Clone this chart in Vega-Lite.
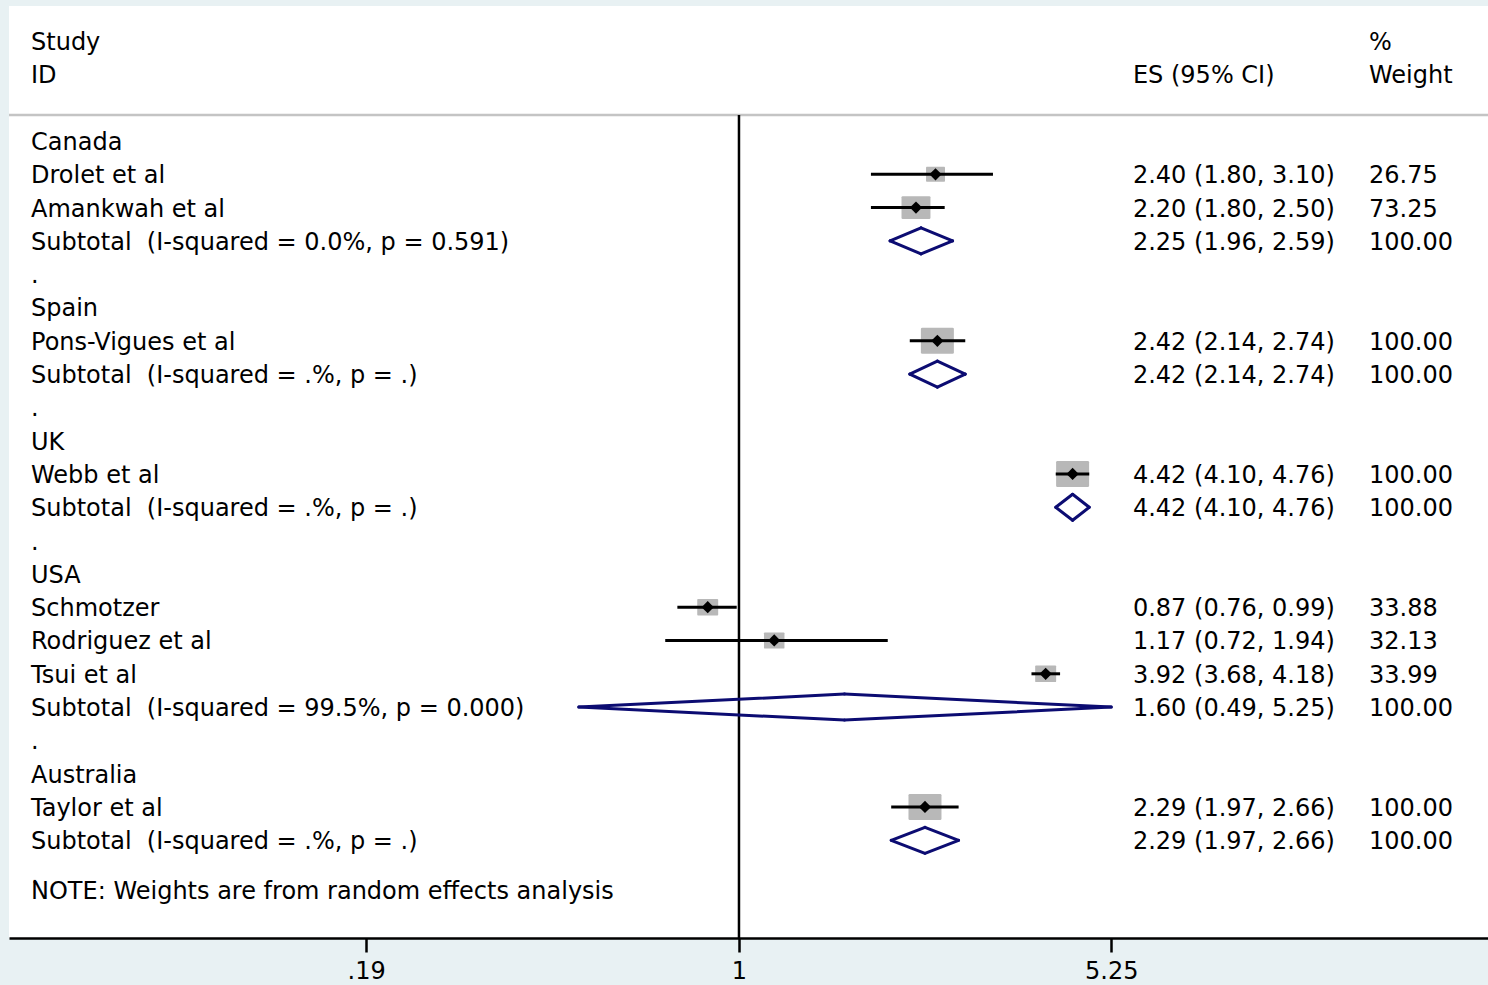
{
  "$schema": "https://vega.github.io/schema/vega-lite/v6.json",
  "width": 1479,
  "height": 932,
  "autosize": {"type": "none"},
  "padding": {"left": 9, "top": 6, "right": 0, "bottom": 47},
  "background": "#e8f1f3",
  "view": {"fill": "white", "stroke": null},
  "config": {
    "font": "DejaVu Sans",
    "text": {"font": "DejaVu Sans", "fontSize": 24, "color": "black", "baseline": "middle", "align": "left", "dy": 2}
  },
  "datasets": {
    "rows": [
      {"row": 1, "label": "Canada", "kind": "group"},
      {"row": 2, "label": "Drolet et al", "kind": "study", "es": 2.40, "lo": 1.80, "hi": 3.10, "ci": "2.40 (1.80, 3.10)", "w": 26.75, "wt": "26.75"},
      {"row": 3, "label": "Amankwah et al", "kind": "study", "es": 2.20, "lo": 1.80, "hi": 2.50, "ci": "2.20 (1.80, 2.50)", "w": 73.25, "wt": "73.25"},
      {"row": 4, "label": "Subtotal\u00a0 (I-squared = 0.0%, p = 0.591)", "kind": "pooled", "es": 2.25, "lo": 1.96, "hi": 2.59, "ci": "2.25 (1.96, 2.59)", "w": 100, "wt": "100.00"},
      {"row": 5, "label": ".", "kind": "dot"},
      {"row": 6, "label": "Spain", "kind": "group"},
      {"row": 7, "label": "Pons-Vigues et al", "kind": "study", "es": 2.42, "lo": 2.14, "hi": 2.74, "ci": "2.42 (2.14, 2.74)", "w": 100, "wt": "100.00"},
      {"row": 8, "label": "Subtotal\u00a0 (I-squared = .%, p = .)", "kind": "pooled", "es": 2.42, "lo": 2.14, "hi": 2.74, "ci": "2.42 (2.14, 2.74)", "w": 100, "wt": "100.00"},
      {"row": 9, "label": ".", "kind": "dot"},
      {"row": 10, "label": "UK", "kind": "group"},
      {"row": 11, "label": "Webb et al", "kind": "study", "es": 4.42, "lo": 4.10, "hi": 4.76, "ci": "4.42 (4.10, 4.76)", "w": 100, "wt": "100.00"},
      {"row": 12, "label": "Subtotal\u00a0 (I-squared = .%, p = .)", "kind": "pooled", "es": 4.42, "lo": 4.10, "hi": 4.76, "ci": "4.42 (4.10, 4.76)", "w": 100, "wt": "100.00"},
      {"row": 13, "label": ".", "kind": "dot"},
      {"row": 14, "label": "USA", "kind": "group"},
      {"row": 15, "label": "Schmotzer", "kind": "study", "es": 0.87, "lo": 0.76, "hi": 0.99, "ci": "0.87 (0.76, 0.99)", "w": 33.88, "wt": "33.88"},
      {"row": 16, "label": "Rodriguez et al", "kind": "study", "es": 1.17, "lo": 0.72, "hi": 1.94, "ci": "1.17 (0.72, 1.94)", "w": 32.13, "wt": "32.13"},
      {"row": 17, "label": "Tsui et al", "kind": "study", "es": 3.92, "lo": 3.68, "hi": 4.18, "ci": "3.92 (3.68, 4.18)", "w": 33.99, "wt": "33.99"},
      {"row": 18, "label": "Subtotal\u00a0 (I-squared = 99.5%, p = 0.000)", "kind": "pooled", "es": 1.60, "lo": 0.49, "hi": 5.25, "ci": "1.60 (0.49, 5.25)", "w": 100, "wt": "100.00"},
      {"row": 19, "label": ".", "kind": "dot"},
      {"row": 20, "label": "Australia", "kind": "group"},
      {"row": 21, "label": "Taylor et al", "kind": "study", "es": 2.29, "lo": 1.97, "hi": 2.66, "ci": "2.29 (1.97, 2.66)", "w": 100, "wt": "100.00"},
      {"row": 22, "label": "Subtotal\u00a0 (I-squared = .%, p = .)", "kind": "pooled", "es": 2.29, "lo": 1.97, "hi": 2.66, "ci": "2.29 (1.97, 2.66)", "w": 100, "wt": "100.00"},
      {"row": 23, "label": ".", "kind": "dot"},
      {"row": 23.5, "label": "NOTE: Weights are from random effects analysis", "kind": "note"}
    ],
    "headers": [
      {"row": -2, "left": "Study", "right": "%"},
      {"row": -1, "left": "ID", "mid": "ES (95% CI)", "right": "Weight"}
    ]
  },
  "encoding": {
    "y": {"field": "row", "type": "quantitative", "axis": null,
          "scale": {"domain": [-3.054, 24.934], "reverse": true, "nice": false, "zero": false}}
  },
  "layer": [
    {
      "data": {"values": [{"row": 0.22}]},
      "mark": {"type": "rule", "color": "#c4c4c4", "strokeWidth": 2.5},
      "encoding": {
        "x": {"datum": 0.03871, "type": "quantitative",
              "scale": {"type": "log", "domain": [0.03871, 28.12], "nice": false, "zero": false},
              "axis": {"values": [0.19, 1, 5.25], "title": null, "grid": false,
                       "labelExpr": "datum.value < 0.5 ? '.19' : (datum.value < 2 ? '1' : '5.25')",
                       "domainColor": "black", "domainWidth": 2.5, "tickColor": "black", "tickWidth": 2.5, "tickSize": 14,
                       "labelFont": "DejaVu Sans", "labelFontSize": 24, "labelColor": "black", "labelPadding": 7, "labelFlush": false}},
        "x2": {"datum": 28.12}
      }
    },
    {
      "data": {"values": [{"row": 0.22}]},
      "mark": {"type": "rule", "color": "black", "strokeWidth": 2.5},
      "encoding": {
        "x": {"datum": 1, "type": "quantitative"},
        "y2": {"datum": 24.934}
      }
    },
    {
      "data": {"name": "rows"},
      "transform": [{"filter": "datum.kind == 'study'"}],
      "mark": {"type": "point", "filled": true, "color": "#b8b8b8", "opacity": 1,
               "shape": "M-1.1,-0.95H1.1Q1.2,-0.95 1.2,-0.85V0.85Q1.2,0.95 1.1,0.95H-1.1Q-1.2,0.95 -1.2,0.85V-0.85Q-1.2,-0.95 -1.1,-0.95Z"},
      "encoding": {
        "x": {"field": "es", "type": "quantitative"},
        "size": {"field": "w", "type": "quantitative", "legend": null,
                 "scale": {"type": "pow", "exponent": 0.84, "domain": [0, 100], "range": [0, 756], "zero": true}}
      }
    },
    {
      "data": {"name": "rows"},
      "transform": [{"filter": "datum.kind == 'study'"}],
      "mark": {"type": "rule", "color": "black", "strokeWidth": 3},
      "encoding": {
        "x": {"field": "lo", "type": "quantitative"},
        "x2": {"field": "hi"}
      }
    },
    {
      "data": {"name": "rows"},
      "transform": [{"filter": "datum.kind == 'study'"}],
      "mark": {"type": "point", "filled": true, "color": "black", "opacity": 1, "shape": "diamond", "size": 150},
      "encoding": {
        "x": {"field": "es", "type": "quantitative"}
      }
    },
    {
      "data": {"name": "rows"},
      "transform": [{"filter": "datum.kind == 'pooled'"}],
      "mark": {"type": "rule", "color": "#0c0c72", "strokeWidth": 3, "strokeCap": "round", "y2Offset": -13},
      "encoding": {
        "x": {"field": "lo", "type": "quantitative"},
        "x2": {"field": "es"},
        "y2": {"field": "row"}
      }
    },
    {
      "data": {"name": "rows"},
      "transform": [{"filter": "datum.kind == 'pooled'"}],
      "mark": {"type": "rule", "color": "#0c0c72", "strokeWidth": 3, "strokeCap": "round", "y2Offset": 13},
      "encoding": {
        "x": {"field": "lo", "type": "quantitative"},
        "x2": {"field": "es"},
        "y2": {"field": "row"}
      }
    },
    {
      "data": {"name": "rows"},
      "transform": [{"filter": "datum.kind == 'pooled'"}],
      "mark": {"type": "rule", "color": "#0c0c72", "strokeWidth": 3, "strokeCap": "round", "yOffset": -13},
      "encoding": {
        "x": {"field": "es", "type": "quantitative"},
        "x2": {"field": "hi"},
        "y2": {"field": "row"}
      }
    },
    {
      "data": {"name": "rows"},
      "transform": [{"filter": "datum.kind == 'pooled'"}],
      "mark": {"type": "rule", "color": "#0c0c72", "strokeWidth": 3, "strokeCap": "round", "yOffset": 13},
      "encoding": {
        "x": {"field": "es", "type": "quantitative"},
        "x2": {"field": "hi"},
        "y2": {"field": "row"}
      }
    },
    {
      "data": {"name": "rows"},
      "mark": {"type": "text"},
      "encoding": {
        "x": {"datum": 0.0427, "type": "quantitative"},
        "text": {"field": "label"}
      }
    },
    {
      "data": {"name": "rows"},
      "transform": [{"filter": "isValid(datum.ci)"}],
      "mark": {"type": "text"},
      "encoding": {
        "x": {"datum": 5.783, "type": "quantitative"},
        "text": {"field": "ci"}
      }
    },
    {
      "data": {"name": "rows"},
      "transform": [{"filter": "isValid(datum.wt)"}],
      "mark": {"type": "text"},
      "encoding": {
        "x": {"datum": 16.55, "type": "quantitative"},
        "text": {"field": "wt"}
      }
    },
    {
      "data": {"name": "headers"},
      "mark": {"type": "text"},
      "encoding": {
        "x": {"datum": 0.0427, "type": "quantitative"},
        "text": {"field": "left"}
      }
    },
    {
      "data": {"name": "headers"},
      "transform": [{"filter": "isValid(datum.mid)"}],
      "mark": {"type": "text"},
      "encoding": {
        "x": {"datum": 5.783, "type": "quantitative"},
        "text": {"field": "mid"}
      }
    },
    {
      "data": {"name": "headers"},
      "mark": {"type": "text"},
      "encoding": {
        "x": {"datum": 16.55, "type": "quantitative"},
        "text": {"field": "right"}
      }
    }
  ]
}
